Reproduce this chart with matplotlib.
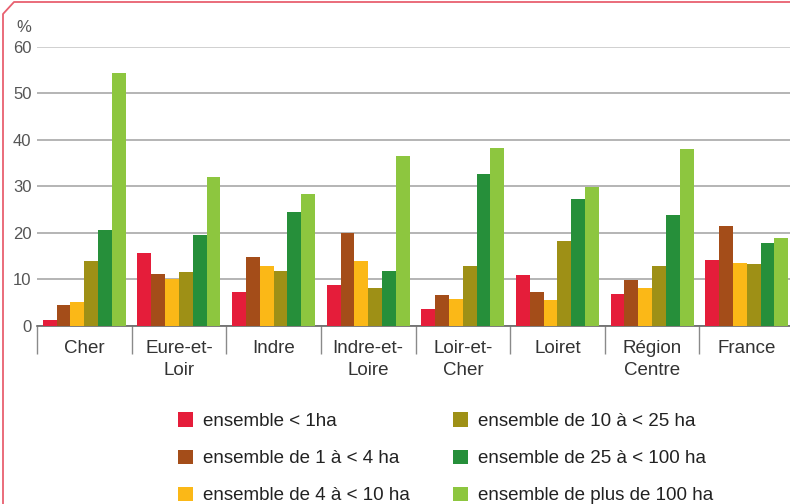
import numpy as np
import matplotlib.pyplot as plt
from matplotlib.lines import Line2D
from matplotlib.patches import Patch

plt.rcParams['font.family'] = ['Liberation Sans', 'DejaVu Sans']

# Données (en %)
categories = ["Cher", "Eure-et-\nLoir", "Indre", "Indre-et-\nLoire", "Loir-et-\nCher",
              "Loiret", "Région\nCentre", "France"]
series_labels = ["ensemble < 1ha", "ensemble de 1 à < 4 ha", "ensemble de 4 à < 10 ha",
                 "ensemble de 10 à < 25 ha", "ensemble de 25 à < 100 ha",
                 "ensemble de plus de 100 ha"]
moins_1ha = [1.3, 15.7, 7.3, 8.8, 3.7, 11.0, 6.9, 14.2]
de_1_a_4 = [4.5, 11.2, 14.8, 20.0, 6.7, 7.3, 9.9, 21.5]
de_4_a_10 = [5.2, 10.0, 12.9, 14.0, 5.8, 5.6, 8.2, 13.5]
de_10_a_25 = [14.0, 11.6, 11.8, 8.2, 12.9, 18.3, 12.9, 13.3]
de_25_a_100 = [20.6, 19.5, 24.5, 11.8, 32.6, 27.3, 23.8, 17.8]
plus_100 = [54.3, 32.0, 28.3, 36.5, 38.2, 29.9, 38.0, 18.9]
series = [moins_1ha, de_1_a_4, de_4_a_10, de_10_a_25, de_25_a_100, plus_100]
colors = ['#e51d3a', '#a44d19', '#fbb817', '#9e9016', '#268f3a', '#8dc63f']

fig = plt.figure(figsize=(7.9, 5.04), dpi=100)
ax = fig.add_axes([37 / 790, 178 / 504, 757 / 790, 279.3 / 504])

x = np.arange(len(categories))
w = 0.146
for i, (vals, c) in enumerate(zip(series, colors)):
    ax.bar(x + (i - 2.5) * w, vals, width=w, color=c, zorder=3, linewidth=0)

ax.set_xlim(-0.5, len(categories) - 0.5)
ax.set_ylim(0, 60)
ax.set_yticks(range(0, 61, 10))
ax.yaxis.grid(True, color='#a8a8a8', linewidth=1.2, zorder=0)
ax.get_ygridlines()[-1].set_color('#c8c8c8')
ax.tick_params(axis='y', length=0, pad=4, labelsize=12, labelcolor='#555555')

ax.set_xticks(x)
ax.set_xticklabels(categories, fontsize=13.5, color='#333333', linespacing=1.4)
ax.tick_params(axis='x', which='major', length=0, pad=10)
ax.set_xticks(np.arange(-0.5, len(categories), 1.0), minor=True)
ax.tick_params(axis='x', which='minor', length=20, width=1, color='#8a8a8a', direction='out')

for s in ['top', 'right', 'left']:
    ax.spines[s].set_visible(False)
ax.spines['bottom'].set_color('#666666')
ax.spines['bottom'].set_linewidth(1.2)

fig.text(16 / 790, 1 - 27 / 504, "%", fontsize=12, color='#555555', va='center')

# Légende
handles = [Patch(facecolor=c, edgecolor='none') for c in colors]
fig.legend(handles, series_labels, loc='upper left', bbox_to_anchor=(169 / 790, 1 - 403 / 504),
           ncol=2, frameon=False, fontsize=13.5, handlelength=0.8, handleheight=0.8,
           handletextpad=0.53, labelspacing=1.04, columnspacing=2.3, borderpad=0,
           labelcolor='#222222')

# Cadre rose (coin biseauté)
frame_color = '#e8606f'
fig.add_artist(Line2D([3 / 790, 3 / 790, 14 / 790, 1.0],
                      [0, 1 - 14 / 504, 1 - 2 / 504, 1 - 2 / 504],
                      transform=fig.transFigure, color=frame_color, linewidth=1.3))

fig.savefig('out.png', dpi=100)
